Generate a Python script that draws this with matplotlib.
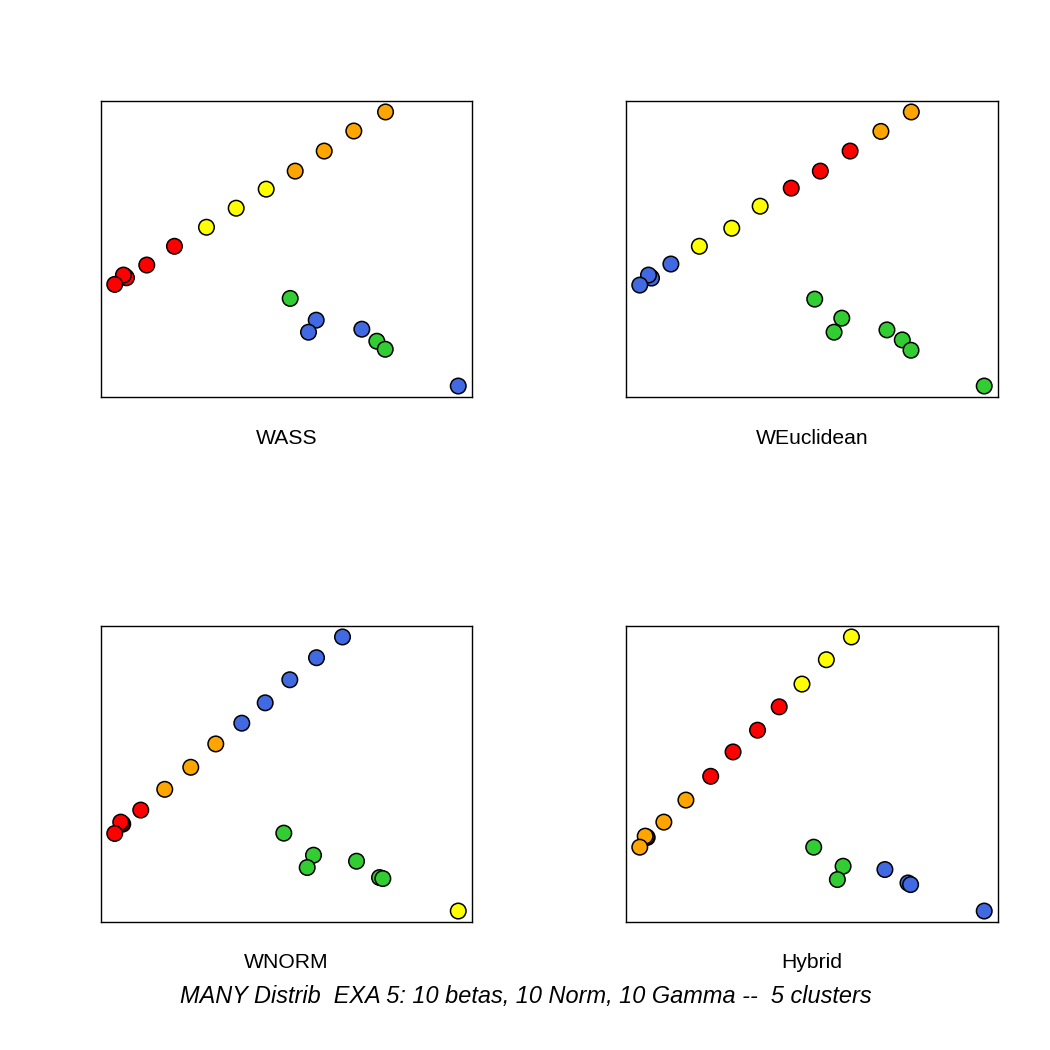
import matplotlib
matplotlib.use("Agg")
import matplotlib.pyplot as plt

COLORS = {"red": "#FF0000", "orange": "#FFA500", "yellow": "#FFFF00",
          "blue": "#4169E1", "green": "#32CD32"}

titles = ["WASS", "WEuclidean", "WNORM", "Hybrid"]
main_title = "MANY Distrib  EXA 5: 10 betas, 10 Norm, 10 Gamma --  5 clusters"

# Panel 1: WASS
wass_x = [25.3, 26.3, 27.0, 24.0, 15.3, 47.3, 75.0, 107.0, 136.7, 166.7,
          195.7, 224.7, 254.3, 286.0, 190.7, 277.3, 285.7, 216.7, 209.0, 262.3, 358.7]
wass_y = [123.0, 122.0, 121.3, 124.0, 114.7, 134.0, 152.7, 171.7, 190.7, 209.7,
          227.7, 247.7, 267.7, 286.7, 100.7, 58.0, 50.0, 79.0, 67.0, 70.0, 13.3]
wass_c = ["red", "red", "red", "red", "red", "red", "red", "yellow", "yellow", "yellow",
          "orange", "orange", "orange", "orange", "green", "green", "green", "blue", "blue", "blue", "blue"]

# Panel 2: WEuclidean
weuc_x = [26.0, 27.0, 24.0, 15.3, 46.3, 74.7, 107.0, 135.3, 166.3, 195.3,
          225.0, 255.7, 286.0, 189.7, 216.7, 209.0, 261.7, 277.0, 285.7, 358.7]
weuc_y = [122.0, 121.0, 124.0, 114.0, 135.0, 152.7, 170.7, 192.7, 210.7, 227.7,
          247.7, 267.3, 286.7, 100.0, 81.0, 67.0, 69.3, 59.3, 49.0, 13.3]
weuc_c = ["blue", "blue", "blue", "blue", "blue", "yellow", "yellow", "yellow", "red", "red",
          "red", "orange", "orange", "green", "green", "green", "green", "green", "green", "green"]

# Panel 3: WNORM
wnorm_x = [23.3, 22.7, 21.3, 15.3, 41.3, 65.3, 91.3, 116.3, 142.3, 165.7,
           190.3, 217.0, 243.0, 184.3, 214.0, 207.7, 257.0, 280.0, 283.3, 358.7]
wnorm_y = [100.0, 100.7, 102.0, 90.7, 114.0, 134.7, 156.7, 180.0, 200.7, 221.0,
           244.0, 266.0, 286.7, 91.0, 69.0, 56.7, 63.0, 46.7, 45.7, 13.3]
wnorm_c = ["red", "red", "red", "red", "red", "orange", "orange", "orange", "blue", "blue",
           "blue", "blue", "blue", "green", "green", "green", "green", "green", "green", "yellow"]

# Panel 4: Hybrid
hyb_x = [22.7, 22.0, 20.7, 15.3, 39.3, 61.3, 86.0, 108.3, 132.7, 154.3,
         177.0, 201.3, 226.3, 188.7, 218.0, 212.3, 259.7, 282.7, 285.3, 358.7]
hyb_y = [86.7, 87.3, 88.0, 77.0, 102.0, 124.0, 147.7, 172.0, 193.7, 217.0,
         239.7, 264.0, 286.7, 77.0, 58.0, 44.7, 54.7, 41.3, 39.7, 13.3]
hyb_c = ["orange", "orange", "orange", "orange", "orange", "orange", "red", "red", "red", "red",
         "yellow", "yellow", "yellow", "green", "green", "green", "blue", "blue", "blue", "blue"]

panels = [(wass_x, wass_y, wass_c), (weuc_x, weuc_y, weuc_c),
          (wnorm_x, wnorm_y, wnorm_c), (hyb_x, hyb_y, hyb_c)]

plt.rcParams['font.family'] = ['Liberation Sans', 'DejaVu Sans']

W = H = 1050
fig = plt.figure(figsize=(10.5, 10.5), dpi=100)

boxes = [(101, 101, 472, 397), (626, 101, 998, 397),
         (101, 626, 472, 922), (626, 626, 998, 922)]
label_y = [437, 437, 961, 961]

for (x, y, c), (l, t, r, b), name, ly in zip(panels, boxes, titles, label_y):
    ax = fig.add_axes([l / W, 1 - b / H, (r - l) / W, (b - t) / H])
    ax.scatter(x, y, c=[COLORS[k] for k in c], s=125, edgecolors="black",
               linewidths=1.1, zorder=3)
    xr = max(x) - min(x)
    yr = max(y) - min(y)
    ax.set_xlim(min(x) - 0.04 * xr, max(x) + 0.04 * xr)
    ax.set_ylim(min(y) - 0.04 * yr, max(y) + 0.04 * yr)
    ax.set_xticks([])
    ax.set_yticks([])
    for s in ax.spines.values():
        s.set_linewidth(1.0)
    fig.text((l + r) / 2 / W, 1 - (ly + 1) / H, name, ha="center", va="center", fontsize=15.2)

fig.text(526 / W, 1 - 996 / H, main_title, ha="center", va="center",
         fontsize=16.9, style="italic")

fig.savefig("out.png", dpi=100)
